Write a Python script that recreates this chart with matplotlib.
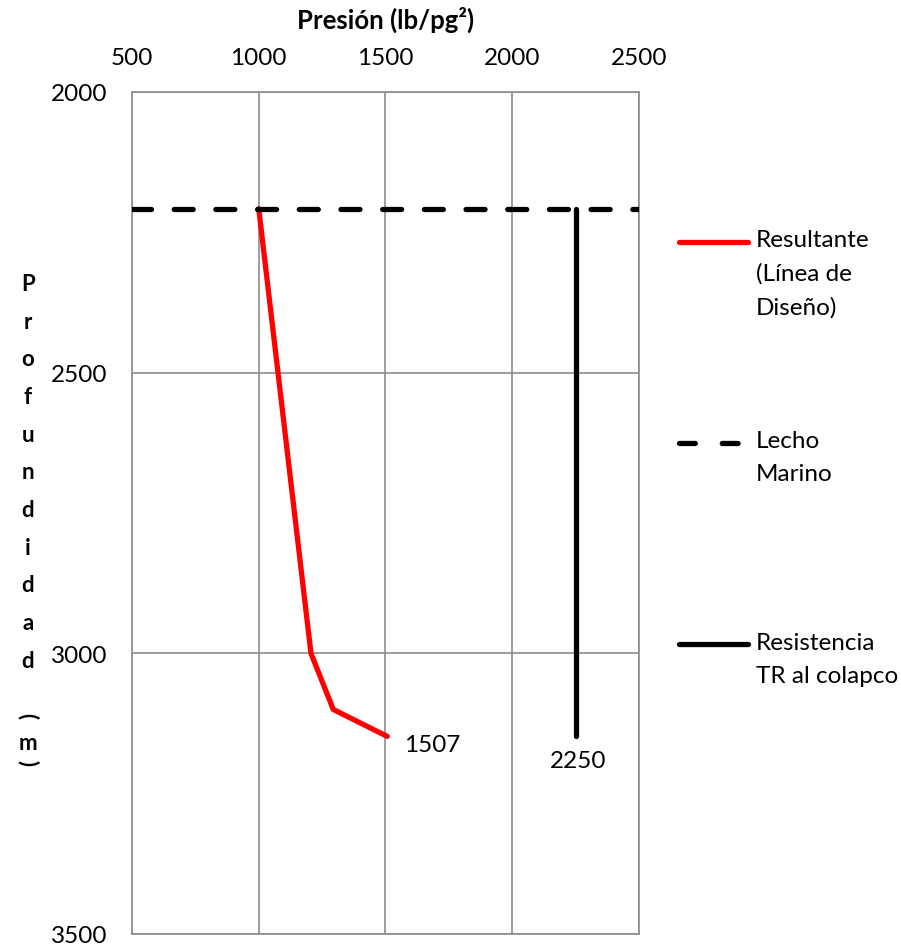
import matplotlib
matplotlib.use("Agg")
import matplotlib.pyplot as plt
from matplotlib.lines import Line2D

plt.rcParams['font.family'] = ['Lato', 'DejaVu Sans']

# datos
pres_resultante = [1000, 1206, 1294, 1507]
prof_resultante = [2208, 3000, 3100, 3148]
pres_lecho = [500, 2500]
prof_lecho = [2208, 2208]
pres_resistencia = [2250, 2250]
prof_resistencia = [2208, 3148]
x_ticks = [500, 1000, 1500, 2000, 2500]
y_ticks = [2000, 2500, 3000, 3500]
etiquetas = ["Resultante\n(Línea de\nDiseño)", "Lecho\nMarino", "Resistencia\nTR al colapco"]

fig = plt.figure(figsize=(9.01, 9.45), dpi=100)
ax = fig.add_axes([0.1465, 0.0106, 0.5627, 0.891])

ax.plot(pres_resultante, prof_resultante, color='#ff0000', lw=3.8, solid_capstyle='round', solid_joinstyle='round', zorder=3)
ax.plot(pres_lecho, prof_lecho, color='black', lw=3.8, dashes=(3.6, 4.3), dash_capstyle='round', zorder=3)
ax.plot(pres_resistencia, prof_resistencia, color='black', lw=3.8, solid_capstyle='round', zorder=3)

ax.annotate(str(pres_resultante[-1]), (pres_resultante[-1], prof_resultante[-1]),
            xytext=(12, -6), textcoords='offset points', ha='left', va='center', fontsize=17.5)
ax.annotate(str(pres_resistencia[-1]), (pres_resistencia[-1], prof_resistencia[-1]),
            xytext=(2, -17), textcoords='offset points', ha='center', va='center', fontsize=17.5)

ax.set_xlim(500, 2500)
ax.set_ylim(3500, 2000)
ax.set_xticks(x_ticks)
ax.set_yticks(y_ticks)
ax.xaxis.tick_top()
ax.tick_params(length=0, labelsize=17.5)
ax.tick_params(axis='x', pad=17)
ax.tick_params(axis='y', pad=18)
ax.grid(True, color='#8c8c8c', lw=1.2)
ax.set_axisbelow(True)
for s in ax.spines.values():
    s.set_color('#8c8c8c')
    s.set_linewidth(1.2)

ax.xaxis.set_label_position('top')
ax.set_xlabel("Presión (lb/pg²)", fontsize=18.5, fontweight='bold', labelpad=14)

# titulo vertical del eje y
fig.text(0.031, 0.710, "P\nr\no\nf\nu\nn\nd\ni\nd\na\nd", ha='center', va='top',
         fontsize=16, fontweight='bold', linespacing=1.98)
fig.text(0.031, 0.242, "(", ha='center', va='center', fontsize=16, fontweight='bold', rotation=-90)
fig.text(0.031, 0.213, "m", ha='center', va='center', fontsize=16, fontweight='bold')
fig.text(0.031, 0.192, ")", ha='center', va='center', fontsize=16, fontweight='bold', rotation=-90)

# leyenda
estilos = [dict(color='#ff0000'), dict(color='black', dashes=(3.0, 5.1)), dict(color='black')]
posiciones = [0.822, 0.583, 0.344]
for lab, st, yp in zip(etiquetas, estilos, posiciones):
    ax.add_line(Line2D([1.079, 1.215], [yp, yp], transform=ax.transAxes, clip_on=False,
                       lw=3.8, solid_capstyle='round', dash_capstyle='round', **st))
    ax.text(1.231, yp + 0.015, lab, transform=ax.transAxes, ha='left', va='top',
            fontsize=17.5, linespacing=1.7)

fig.savefig("out.png", dpi=100)
